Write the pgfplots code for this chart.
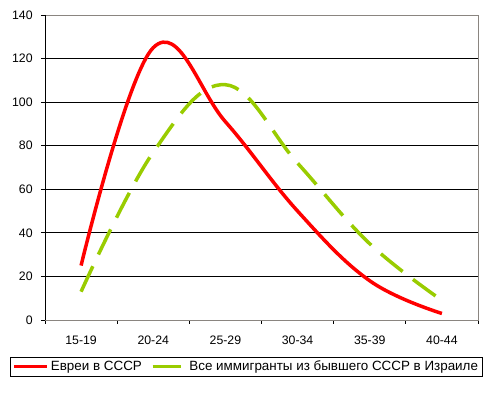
\documentclass[border=0pt]{standalone}
\usepackage{pgfplots}
\pgfplotsset{compat=1.18}
\usepackage{fontspec}
\setmainfont{Liberation Sans}
\definecolor{exred}{HTML}{FF0000}
\definecolor{exgreen}{HTML}{99CC00}
\definecolor{framegray}{HTML}{8A8580}
\begin{document}
\fontsize{12.5}{14}\selectfont
\begin{tikzpicture}
\path[use as bounding box] (-45pt,-75pt) rectangle (448pt,320pt);
\begin{axis}[
  at={(0pt,0pt)}, anchor=south west,
  scale only axis, width=433pt, height=305pt,
  xmin=0, xmax=6, ymin=0, ymax=140,
  xtick={0,1,2,3,4,5,6},
  x tick label as interval,
  xticklabels={15-19,20-24,25-29,30-34,35-39,40-44},
  ytick={0,20,40,60,80,100,120,140},
  ymajorgrids,
  grid style={black, line width=0.8pt},
  tick align=outside, tick pos=left,
  major tick length=4pt,
  tick style={black, line width=0.8pt},
  axis line style={draw=framegray, line width=0.8pt},
  /pgf/number format/assume math mode=true,
  ticklabel style={font=\fontsize{12.3}{14}\selectfont},
  yticklabel style={xshift=-4pt},
  xticklabel style={yshift=-8pt},
  legend columns=2,
  legend style={at={(-0.0808,-0.1213)}, anchor=north west, draw=black, line width=0.8pt,
    font=\fontsize{13.4}{15}\selectfont, inner xsep=2pt, inner ysep=1.5pt,
    /tikz/every even column/.append style={column sep=7pt}},
  legend image code/.code={\draw[#1] (0pt,0pt) -- (33pt,0pt);},
  every axis plot/.append style={line width=3.5pt},
]
\addplot[exred, smooth, tension=0.65] coordinates {
  (0.5,25) (1.5,125) (2.5,91) (3.5,50) (4.5,18) (5.5,3)
};
\addlegendentry{Евреи в СССР}
\addplot[exgreen, smooth, tension=0.65, dash pattern=on 28pt off 13pt] coordinates {
  (0.5,13) (1.5,77) (2.5,108) (3.5,72) (4.5,35) (5.5,9)
};
\addlegendentry{Все иммигранты из бывшего СССР в Израиле}
\draw[black, line width=0.8pt] (rel axis cs:0,1) -- (rel axis cs:0,0) -- (rel axis cs:1,0);
\end{axis}
\end{tikzpicture}
\end{document}
